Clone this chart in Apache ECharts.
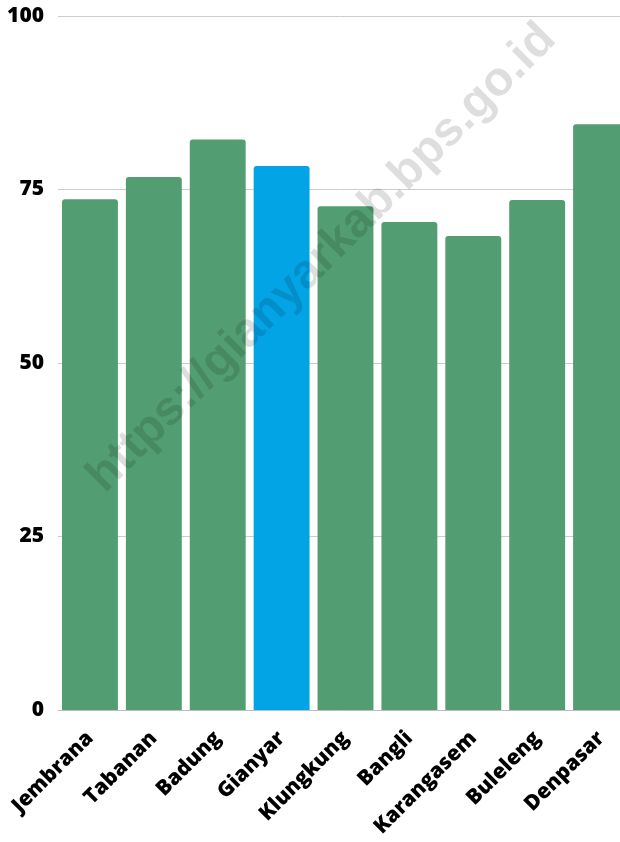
<!DOCTYPE html>
<html>
<head>
<meta charset="utf-8">
<script src="https://cdn.jsdelivr.net/npm/echarts@6/dist/echarts.min.js"></script>
<style>
  html, body { margin: 0; padding: 0; background: #fff; }
  #chart { width: 620px; height: 842px; }
</style>
</head>
<body>
<div id="chart"></div>
<script>
// kabupaten/kota in Bali
const categories = ['Jembrana', 'Tabanan', 'Badung', 'Gianyar', 'Klungkung', 'Bangli', 'Karangasem', 'Buleleng', 'Denpasar']
const values = [73.6, 76.8, 82.2, 78.4, 72.6, 70.3, 68.3, 73.5, 84.4]
const highlight = 'Gianyar'
const yTicks = [0, 25, 50, 75, 100]

const green = '#529e72'
const blue = '#03a4e6'

const chart = echarts.init(document.getElementById('chart'))
chart.setOption({
  animation: false,
  grid: {
    left: 58,
    top: 16,
    bottom: 132,
    width: 575,
    containLabel: false,
    outerBoundsMode: 'none'
  },
  xAxis: {
    type: 'category',
    data: categories,
    axisLine: { lineStyle: { color: '#bdbdbd', width: 1 } },
    axisTick: { show: false },
    axisLabel: {
      rotate: 45,
      interval: 0,
      margin: 25,
      color: '#000',
      fontFamily: 'Open Sans',
      fontWeight: 800,
      fontSize: 21
    }
  },
  yAxis: {
    type: 'value',
    min: yTicks[0],
    max: yTicks[yTicks.length - 1],
    interval: 25,
    axisLine: { show: false },
    axisTick: { show: false },
    splitLine: { lineStyle: { color: '#cccccc', width: 1 } },
    axisLabel: {
      margin: 14,
      color: '#000',
      fontFamily: 'Open Sans',
      fontWeight: 800,
      fontSize: 21
    }
  },
  series: [
    {
      type: 'bar',
      barCategoryGap: '12.5%',
      data: values.map((v, i) => ({
        value: v,
        itemStyle: { color: categories[i] === highlight ? blue : green }
      })),
      itemStyle: { borderRadius: [3, 3, 0, 0] }
    }
  ],
  graphic: [
    {
      type: 'text',
      x: 322,
      y: 258,
      z: 100,
      rotation: Math.PI / 4,
      style: {
        text: 'https://gianyarkab.bps.go.id',
        x: 0,
        y: 0,
        align: 'center',
        verticalAlign: 'middle',
        font: 'bold 48px "Liberation Sans"',
        fill: 'rgba(0,0,0,0.13)'
      }
    }
  ]
})
</script>
</body>
</html>
